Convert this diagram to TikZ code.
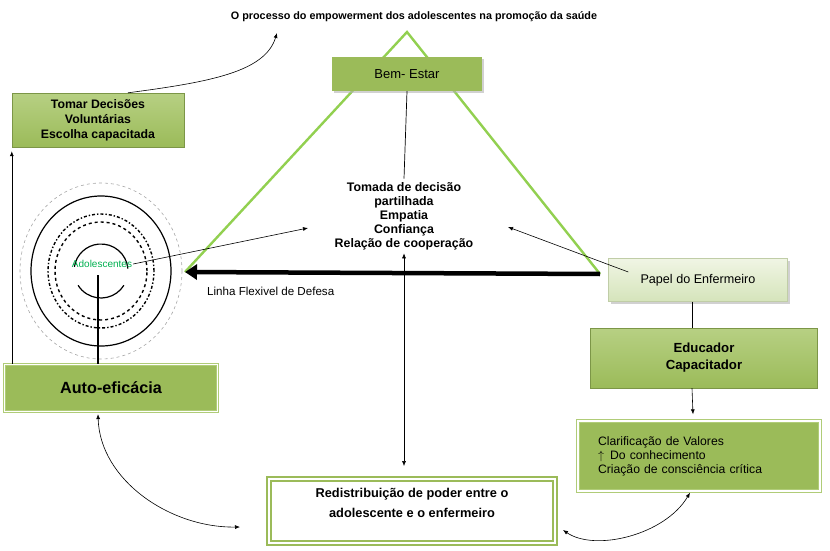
\documentclass[tikz,border=0pt]{standalone}
\usepackage{fontspec}
\setmainfont{Liberation Sans}
\usepackage{tikz}
\usetikzlibrary{arrows.meta, positioning, calc, shadows}

\definecolor{olive}{RGB}{155,187,89}
\definecolor{olivetop}{RGB}{183,208,131}
\definecolor{olivebrd}{RGB}{176,204,120}
\definecolor{paletop}{RGB}{240,245,229}
\definecolor{palebot}{RGB}{213,228,186}
\definecolor{trigreen}{RGB}{146,208,80}
\definecolor{adolgreen}{RGB}{0,176,80}

\begin{document}
\begin{tikzpicture}[x=1pt, y=-1pt,
  gbox/.style={fill=olive, minimum width=150pt, minimum height=34pt, inner sep=0pt,
               align=center, font=\fontsize{13}{15}\selectfont},
  gradbox/.style={top color=olivetop, bottom color=olive, draw=olive!80!black, line width=0.4pt,
                  inner sep=0pt, align=center},
  dblbox/.style={draw=olivebrd, line width=1.3pt, double=white, double distance=1.1pt,
                 inner sep=0pt, align=center},
  shd/.style={drop shadow={shadow xshift=2pt, shadow yshift=-2pt, fill=black!30, opacity=0.6}},
  txt/.style={align=center, font=\bfseries\fontsize{12.4}{14}\selectfont},
  arr/.style={-{Latex[length=5pt, width=4pt]}, line width=0.6pt},
  arrtwo/.style={{Latex[length=5pt, width=4pt]}-{Latex[length=5pt, width=4pt]}, line width=0.6pt},
  thickarr/.style={-{Triangle[length=12pt, width=15pt]}, line width=4.5pt},
  tri/.style={draw=trigreen, line width=2.4pt}]

  \useasboundingbox (0,0) rectangle (830,551);

  % triangle
  \coordinate (tl) at (185,272);
  \coordinate (tr) at (600,274);
  \coordinate (apex) at (407,32);
  \draw[tri] (tl) -- (apex) -- (tr);

  % title
  \node[font=\bfseries\fontsize{10.8}{13}\selectfont] (title) at (414,17)
    {O processo do empowerment dos adolescentes na promoção da saúde};

  % boxes
  \node[gbox, shd] (bem) at (407,74) {Bem- Estar};
  \node[gradbox, minimum width=172pt, minimum height=54pt,
        font=\bfseries\fontsize{12.3}{15}\selectfont] (tomar) at (98,120)
    {Tomar Decisões\\ Voluntárias\\ Escolha capacitada};
  \node[txt] (tom) at (404,216)
    {Tomada de decisão\\ partilhada\\ Empatia\\ Confiança\\ Relação de cooperação};
  \node[gradbox, shd, top color=paletop, bottom color=palebot, draw=palebot!90!black,
        minimum width=179pt, minimum height=43pt,
        font=\fontsize{12.6}{15}\selectfont] (papel) at (698,280) {Papel do Enfermeiro};
  \node[gradbox, minimum width=227pt, minimum height=60pt,
        font=\bfseries\fontsize{13.2}{17}\selectfont] (educ) at (704,358)
    {Educador\\ Capacitador};
  \node[dblbox, fill=olive, minimum width=242pt, minimum height=70pt, align=left, text width=202pt,
        font=\fontsize{12.2}{14}\selectfont] (clar) at (699,456)
    {Clarificação de Valores\\ $\uparrow$\enspace Do conhecimento\\ Criação de consciência crítica};
  \node[dblbox, fill=olive, minimum width=213pt, minimum height=47pt,
        font=\bfseries\fontsize{16.2}{18}\selectfont] (auto) at (111,388) {Auto-eficácia};
  \node[dblbox, draw=olive, line width=1.8pt, double distance=1.6pt, fill=white,
        minimum width=286pt, minimum height=64pt,
        font=\bfseries\fontsize{12.8}{20}\selectfont] (redis) at (412,511)
    {Redistribuição de poder entre o\\ adolescente e o enfermeiro\\[-4pt]};

  % circles
  \coordinate (cc) at (101,271);
  \draw[gray!70, dashed, line width=0.6pt] (cc) ellipse [x radius=81pt, y radius=88pt];
  \draw[line width=1.2pt] (cc) ellipse [x radius=70pt, y radius=75pt];
  \draw[line width=1.4pt, dash dot] (cc) ellipse [x radius=53pt, y radius=57pt];
  \draw[line width=1.4pt, dashed] (cc) ellipse [x radius=46pt, y radius=49pt];
  \draw[line width=1.2pt] (cc) ++(-32:27pt) arc[start angle=-32, end angle=-148, radius=27pt];
  \draw[line width=1.2pt] (cc) ++(5:27pt) arc[start angle=5, end angle=171, radius=27pt];
  \node[text=adolgreen, font=\fontsize{10}{12}\selectfont, inner sep=1pt] (adol) at (102,264)
    {Adolescentes};
  \coordinate (adc) at (98,275);
  \node[anchor=west, font=\fontsize{11.6}{13}\selectfont, inner sep=0pt] (linha) at (207,291)
    {Linha Flexivel de Defesa};

  % free ends
  \coordinate (ttl) at (277,33);
  \coordinate (tomw) at (308,228);
  \coordinate (tome) at (508,227);
  \coordinate (redw) at (240,527);
  \coordinate (rede) at (563,530);

  % connectors
  \draw[line width=0.7pt] (bem.south) -- (tom.north);
  \draw[arr] ([xshift=30pt]tomar.north) .. controls (210,82) and (265,72) .. (ttl);
  \draw[arr] (tomar.south west |- auto.north) -- ([yshift=-4pt]tomar.south west);
  \draw[line width=1.2pt] (adc) -- (adc |- auto.north);
  \draw[arr] (adol.east) -- (tomw);
  \draw[arr] ([xshift=20pt,yshift=8pt]papel.west) -- (tome);
  \draw[thickarr] (tr) -- (tl);
  \draw[arrtwo] (tom.south) -- ([yshift=12pt]tom.south |- redis.north);
  \draw[line width=0.7pt] ([xshift=-6pt]papel.south) -- ([xshift=-6pt]papel.south |- educ.north);
  \draw[arr] ([xshift=-12pt]educ.south) -- ([xshift=-6pt,yshift=6pt]clar.north);
  \draw[arrtwo] ([xshift=-13pt,yshift=-2pt]auto.south) .. controls (100,480) and (170,528) .. (redw);
  \draw[arrtwo] (rede) .. controls (595,552) and (665,535) .. ([xshift=-9pt,yshift=-1pt]clar.south);
\end{tikzpicture}
\end{document}
